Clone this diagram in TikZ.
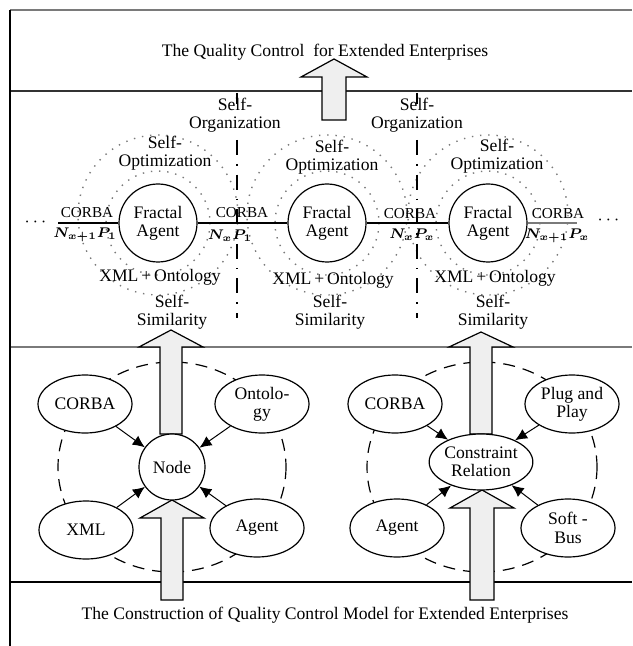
\documentclass[tikz,border=0pt]{standalone}
\usepackage{fontspec}
\setmainfont{Liberation Serif}
\usepackage{amsmath}
\usepackage{bm}
\usetikzlibrary{arrows.meta, shapes.geometric, positioning}
\definecolor{qcGrey}{HTML}{7A7A7A}
\definecolor{qcFill}{HTML}{EFEFEF}
\tikzset{
  frameline/.style  = {line width=1.1pt, black!80},
  lbl/.style        = {font=\fontsize{8.8}{9.2}\selectfont, align=center},
  clbl/.style       = {font=\fontsize{7.6}{9}\selectfont},
  nlbl/.style       = {font=\fontsize{7.4}{9}\selectfont},
  agent/.style      = {circle, draw, line width=0.6pt, fill=white, minimum size=39pt,
                       inner sep=0pt, lbl},
  elnode/.style     = {ellipse, draw, line width=0.6pt, fill=white, minimum width=47pt,
                       minimum height=29pt, inner sep=0pt, lbl},
  bigarrow/.style   = {draw, line width=0.6pt, fill=qcFill},
  feed/.style       = {-{Latex[length=6pt,width=5.5pt]}, line width=0.5pt},
  loopring/.style   = {line width=0.6pt, dash pattern=on 6pt off 4pt},
  halo/.style       = {qcGrey, line width=0.7pt, dash pattern=on 0.7pt off 3.4pt},
  divider/.style    = {line width=0.7pt, dash pattern=on 7.5pt off 4.5pt on 0.8pt off 4.5pt},
}

\begin{document}
\begin{tikzpicture}[x=0.5pt,y=-0.5pt]
  \useasboundingbox (0,0) rectangle (632,646);
  % frame
  \draw[frameline, qcGrey] (10,10) -- (632,10);
  \draw[frameline] (10,91) -- (632,91);
  \draw[frameline, qcGrey] (10,347) -- (632,347);
  \draw[line width=0.6pt] (10,582) -- (632,582);
  \draw[line width=0.8pt] (10,10) -- (10,646);

  \node[lbl] (top) at (325,52) {The Quality Control~ for Extended Enterprises};
  \node[lbl] (bottom) at (325,615) {The Construction of Quality Control Model for Extended Enterprises};

  % fractal layer
  \foreach \cx in {158,327,488} {
    \draw[halo] (\cx,223) circle[radius=52];
    \draw[halo] (\cx,215) circle[radius=80];
  }
  \foreach \dx in {237,417} {
    \draw[line width=0.7pt] (\dx,93) -- (\dx,104);
    \draw[divider] (\dx,140) -- (\dx,318);
  }
  \node[agent] (agentL) at (158,223) {Fractal\\Agent};
  \node[agent] (agentM) at (327,223) {Fractal\\Agent};
  \node[agent] (agentR) at (488,223) {Fractal\\Agent};
  \coordinate (lend) at (58,223);
  \coordinate (rend) at (577,223);
  \draw[line width=0.6pt] (lend) -- (agentL) -- (agentM) -- (agentR);
  \draw[qcGrey, line width=1.2pt] (agentR) -- (rend);

  \node[lbl] (orgL) at (235,115) {Self-\\Organization};
  \node[lbl] (orgR) at (417,115) {Self-\\Organization};
  \node[lbl] (optL) at (165,153) {Self-\\Optimization};
  \node[lbl] (optM) at (332,157) {Self-\\Optimization};
  \node[lbl] (optR) at (497,156) {Self-\\Optimization};
  \node[lbl] (ontL) at (160,277) {XML\,+\,Ontology};
  \node[lbl] (ontM) at (333,280) {XML\,+\,Ontology};
  \node[lbl] (ontR) at (495,278) {XML\,+\,Ontology};
  \node[lbl] (simL) at (172,312) {Self-\\Similarity};
  \node[lbl] (simM) at (330,312) {Self-\\Similarity};
  \node[lbl] (simR) at (493,312) {Self-\\Similarity};

  \node[clbl] (cb1) at (87,213) {CORBA};
  \node[clbl] (cb2) at (242,213) {CORBA};
  \node[clbl] (cb3) at (410,214) {CORBA};
  \node[clbl] (cb4) at (558,214) {CORBA};
  \node[nlbl] (np1) at (85,235) {$\bm{N_{x+1}P_1}$};
  \node[nlbl] (np2) at (230,236) {$\bm{N_xP_1}$};
  \node[nlbl] (np3) at (412,235) {$\bm{N_xP_x}$};
  \node[nlbl] (np4) at (557,236) {$\bm{N_{x+1}P_x}$};
  \node[lbl] (dotsL) at (37,222) {$\cdots$};
  \node[lbl] (dotsR) at (610,220) {$\cdots$};

  % construction layer
  \draw[loopring] (172,467) ellipse[x radius=114, y radius=105];
  \draw[loopring] (482,467) ellipse[x radius=115, y radius=105];

  \foreach \cx/\yb/\ya/\yt/\sw/\hw in {334/120/77/59/12/33, 171/434/347/330/11/32,
                                      481/434/347/332/11/32, 172/600/518/500/11/32,
                                      482/600/508/490/12/32} {
    \draw[bigarrow] ({\cx-\sw},\yb) -- ({\cx-\sw},\ya) -- ({\cx-\hw},\ya) -- (\cx,\yt)
      -- ({\cx+\hw},\ya) -- ({\cx+\sw},\ya) -- ({\cx+\sw},\yb) -- cycle;
  }

  \node[elnode] (lcorba) at (85,404) {CORBA};
  \node[elnode] (lonto) at (262,404) {Ontolo-\\gy};
  \node[circle, draw, line width=0.6pt, fill=white, minimum size=33pt, inner sep=0pt, lbl]
    (lnode) at (172,467) {Node};
  \node[elnode] (lxml) at (86,530) {XML};
  \node[elnode] (lagent) at (257,528) {Agent};

  \node[elnode] (rcorba) at (395,404) {CORBA};
  \node[elnode] (rplug) at (572,404) {Plug and\\Play};
  \node[elnode, minimum width=45pt, minimum height=28pt] (rcons) at (481,462) {Constraint\\Relation};
  \node[elnode] (ragent) at (397,528) {Agent};
  \node[elnode] (rbus) at (568,528) {Soft -\\Bus};

  \foreach \src in {lcorba, lonto, lxml, lagent}
    \draw[feed] (\src) -- (lnode);
  \foreach \src in {rcorba, rplug, ragent, rbus}
    \draw[feed] (\src) -- (rcons);
\end{tikzpicture}
\end{document}
